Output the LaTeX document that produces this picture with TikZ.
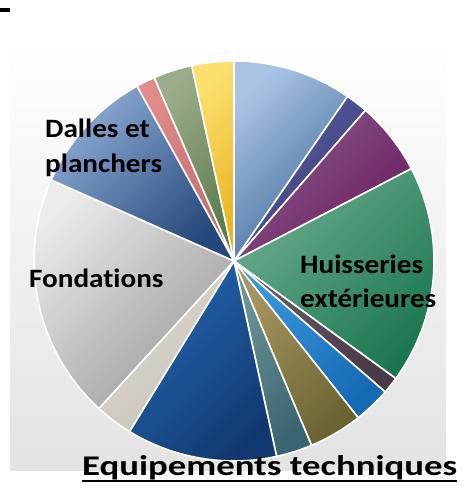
\documentclass[tikz,border=0pt]{standalone}
\usepackage{fontspec}
\setmainfont{Carlito}[Ligatures={NoCommon}]
\definecolor{ca1}{HTML}{A9C3E4}\definecolor{cb1}{HTML}{3D6898}
\definecolor{ca2}{HTML}{5A5EA0}\definecolor{cb2}{HTML}{383C78}
\definecolor{ca3}{HTML}{8A5A8C}\definecolor{cb3}{HTML}{6A1D5E}
\definecolor{ca4}{HTML}{6AAB8E}\definecolor{cb4}{HTML}{1B7650}
\definecolor{ca5}{HTML}{6A5A66}\definecolor{cb5}{HTML}{4A3A46}
\definecolor{ca6}{HTML}{3A98DC}\definecolor{cb6}{HTML}{156AB4}
\definecolor{ca7}{HTML}{A89660}\definecolor{cb7}{HTML}{6A6432}
\definecolor{ca8}{HTML}{6E9698}\definecolor{cb8}{HTML}{3A6470}
\definecolor{ca9}{HTML}{2466B0}\definecolor{cb9}{HTML}{10386E}
\definecolor{ca10}{HTML}{E0DCD4}\definecolor{cb10}{HTML}{C4C0B8}
\definecolor{ca11}{HTML}{ECECEC}\definecolor{cb11}{HTML}{9C9C9C}
\definecolor{ca12}{HTML}{8EAAD4}\definecolor{cb12}{HTML}{24487A}
\definecolor{ca13}{HTML}{E08C8A}\definecolor{cb13}{HTML}{C06A6A}
\definecolor{ca14}{HTML}{9CAC8A}\definecolor{cb14}{HTML}{5C7A4C}
\definecolor{ca15}{HTML}{FBE070}\definecolor{cb15}{HTML}{EAB41E}
\begin{document}
\begin{tikzpicture}[x=1pt,y=1pt,
  lbl/.style={inner sep=0pt,anchor=base west,font=\bfseries\fontsize{26.5}{34.5}\selectfont},
  ttl/.style={inner sep=0pt,anchor=base west,font=\bfseries\fontsize{28.5}{34}\selectfont},
  sep/.style={draw=white,line width=1.6pt,line join=round}]
\useasboundingbox (0,0) rectangle (464,-486);
% background panel
\shade[top color=white,bottom color=black!11] (10,-40) rectangle (446,-470);
% top-left dash
\fill[black] (0,-8) rectangle (10,-12.5);
\coordinate (C) at (234,-261);
\newcommand{\pslice}[4]{%
  \shadedraw[sep,top color=#3,bottom color=#4,shading angle=45]
    (C) -- ++(#1:200) arc[start angle=#1,end angle=#2,radius=200] -- cycle;}
\pslice{55.4}{90}{ca1}{cb1}
\pslice{48.9}{55.4}{ca2}{cb2}
\pslice{27.5}{48.9}{ca3}{cb3}
\pslice{-36}{27.5}{ca4}{cb4}
\pslice{-40.9}{-36}{ca5}{cb5}
\pslice{-51.6}{-40.9}{ca6}{cb6}
\pslice{-67.2}{-51.6}{ca7}{cb7}
\pslice{-77.7}{-67.2}{ca8}{cb8}
\pslice{-121.5}{-77.7}{ca9}{cb9}
\pslice{-132.5}{-121.5}{ca10}{cb10}
\pslice{156.1}{227.5}{ca11}{cb11}
\pslice{119}{156.1}{ca12}{cb12}
\pslice{113.5}{119}{ca13}{cb13}
\pslice{102.2}{113.5}{ca14}{cb14}
\pslice{90}{102.2}{ca15}{cb15}
% labels
\node[lbl] (dalles) at (45,-138) {\scalebox{1.1}[1]{\begin{tabular}[t]{@{}l@{}}Dalles et\\planchers\end{tabular}}};
\node[lbl] (fond) at (29,-287) {\scalebox{1.1}[1]{Fondations}};
\node[lbl] (huis) at (300,-273) {\scalebox{1.1}[1]{\begin{tabular}[t]{@{}l@{}}Huisseries\\extérieures\end{tabular}}};
\node[ttl] (equip) at (82,-475) {\scalebox{1.29}[1]{Equipements techniques}};
\draw[line width=2pt] ([yshift=-5.5pt]equip.base west) -- ([yshift=-5.5pt]equip.base east);
\end{tikzpicture}
\end{document}
